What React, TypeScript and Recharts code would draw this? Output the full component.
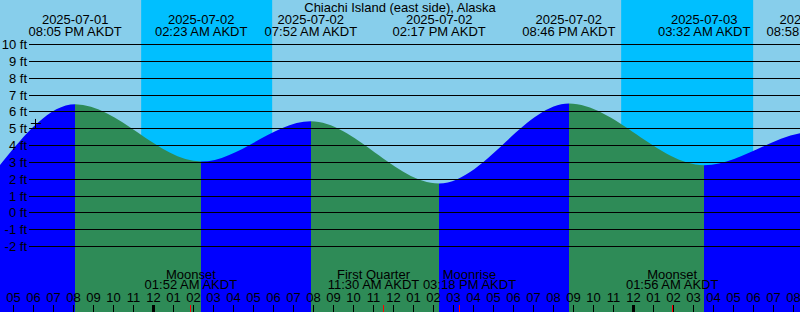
import {
  ComposedChart,
  Area,
  XAxis,
  YAxis,
  ReferenceArea,
  ReferenceLine,
  ReferenceDot,
} from "recharts";

const W = 800;
const H = 312;
const FONT = '"Liberation Sans", Arial, sans-serif';
const FS = 13;

const DAY = "#87CEEB";
const NIGHT = "#00BFFF";
const RISING = "#0000FF";
const FALLING = "#2E8B57";

const STATION = "Chiachi Island (east side), Alaska";
const ZONE = "AKDT";

// Tide turning points. The first two and the last one sit off the edges;
// they are only there so the curve enters and leaves the picture right.
const tideDates = [
  "2025-07-01", "2025-07-01", "2025-07-01", "2025-07-02", "2025-07-02",
  "2025-07-02", "2025-07-02", "2025-07-03", "2025-07-03", "2025-07-03",
];
const tideClock = [
  "06:00 AM", "12:05 PM", "08:05 PM", "02:23 AM", "07:52 AM",
  "02:17 PM", "08:46 PM", "03:32 AM", "08:58 AM", "03:10 PM",
];
const tideFeet = [5.3, -1.5, 6.45, 3.05, 5.44, 1.74, 6.49, 2.83, 4.8, 1.5];

// Night bands (sunset -> sunrise)
const sunsetDates = ["2025-07-01", "2025-07-02"];
const sunsetClock = ["11:23 PM", "11:23 PM"];
const sunriseDates = ["2025-07-02", "2025-07-03"];
const sunriseClock = ["05:56 AM", "05:59 AM"];

// Moon events along the bottom
const moonNames = ["Moonset", "First Quarter", "Moonrise", "Moonset"];
const moonDates = ["2025-07-02", "2025-07-02", "2025-07-02", "2025-07-03"];
const moonClock = ["01:52 AM", "11:30 AM", "03:18 PM", "01:56 AM"];

// Level lines
const feetTicks = [-2, -1, 0, 1, 2, 3, 4, 5, 6, 7, 8, 9, 10];

// the small "+" mark near the left edge
const markDate = "2025-07-01";
const markClock = "06:07 PM";
const markFeet = 5.31;

// hours since 2025-07-01 00:00
const toHours = (date: string, clock: string) => {
  const day = Number(date.slice(8, 10)) - 1;
  let h = Number(clock.slice(0, 2)) % 12;
  if (clock.endsWith("PM")) h += 12;
  return day * 24 + h + Number(clock.slice(3, 5)) / 60;
};

const X_MIN = 16.325;
const X_MAX = X_MIN + 40;
const Y_MIN = -5.891;
const Y_MAX = 12.6436;
const PX_PER_HOUR = W / (X_MAX - X_MIN);
const GUTTER = 29;

const tideT = tideDates.map((d, i) => toHours(d, tideClock[i]));
const data = tideT.map((t, i) => ({ t, ft: tideFeet[i] }));
// only label turning points whose label can reach into the picture
const labelled = tideT.map((t) => t > X_MIN - 2 && t < X_MAX + 2);

const hourTicks = Array.from({ length: 40 }, (_, i) => 17 + i);

// colour stops: blue while the tide rises, green while it falls
const span = tideT[tideT.length - 1] - tideT[0];
const stops: { offset: number; color: string }[] = [];
for (let i = 0; i < tideT.length - 1; i++) {
  const color = tideFeet[i + 1] > tideFeet[i] ? RISING : FALLING;
  stops.push({ offset: (tideT[i] - tideT[0]) / span, color });
  stops.push({ offset: (tideT[i + 1] - tideT[0]) / span, color });
}

// moon labels that would collide get pushed apart
const MOON_LABEL_W = 96;
const moonT = moonDates.map((d, i) => toHours(d, moonClock[i]));
const moonShift = moonT.map(() => 0);
for (let i = 0; i < moonT.length - 1; i++) {
  const gap = (moonT[i + 1] - moonT[i]) * PX_PER_HOUR;
  if (gap < MOON_LABEL_W) {
    const push = (MOON_LABEL_W - gap) / 2;
    moonShift[i] -= push;
    moonShift[i + 1] += push;
  }
}

const txt = { fontFamily: FONT, fontSize: FS, fill: "#000" };

const HourTick = (props: any) => {
  const { x, y, payload } = props;
  const t: number = payload.value;
  const h = ((t % 24) + 11) % 12 + 1;
  const midnight = t % 24 === 0;
  return (
    <g>
      <text x={x} y={y} textAnchor="middle" {...txt}>
        {String(h).padStart(2, "0")}
      </text>
      {midnight ? (
        <rect x={x - 1.5} y={y + 3} width={3} height={7} fill="#000" />
      ) : (
        <line x1={x} x2={x} y1={y + 3} y2={y + 10} stroke="#000" />
      )}
    </g>
  );
};

const FeetLine = (props: any) => {
  const y = Math.floor(props.y1) + 0.5;
  return (
    <g>
      <line x1={GUTTER} x2={props.x2} y1={y} y2={y} stroke="#000" />
      <text x={GUTTER - 2} y={y + 4} textAnchor="end" {...txt}>
        {`${props.value} ft`}
      </text>
    </g>
  );
};

export default function App() {
  return (
    <div style={{ position: "absolute", left: 0, top: 0, width: W, height: H, background: DAY }}>
      <ComposedChart
        width={W}
        height={H}
        data={data}
        margin={{ top: 0, right: 0, bottom: 0, left: 0 }}
      >
        <defs>
          <linearGradient id="tideFill" x1="0" y1="0" x2="1" y2="0">
            {stops.map((s, i) => (
              <stop key={i} offset={s.offset} stopColor={s.color} />
            ))}
          </linearGradient>
        </defs>
        <YAxis hide type="number" domain={[Y_MIN, Y_MAX]} allowDataOverflow />
        {sunsetDates.map((d, i) => (
          <ReferenceArea
            key={i}
            x1={toHours(d, sunsetClock[i])}
            x2={toHours(sunriseDates[i], sunriseClock[i])}
            fill={NIGHT}
            fillOpacity={1}
            stroke="none"
            zIndex={50}
          />
        ))}
        <Area
          type="monotoneX"
          dataKey="ft"
          stroke="none"
          fill="url(#tideFill)"
          fillOpacity={1}
          baseValue={Y_MIN}
          dot={false}
          activeDot={false}
          isAnimationActive={false}
          zIndex={100}
        />
        {feetTicks.map((v) => (
          <ReferenceLine
            key={v}
            y={v}
            ifOverflow="visible"
            zIndex={450}
            shape={(p: any) => <FeetLine {...p} value={v} />}
          />
        ))}
        <XAxis
          type="number"
          dataKey="t"
          domain={[X_MIN, X_MAX]}
          allowDataOverflow
          ticks={hourTicks}
          interval={0}
          orientation="bottom"
          mirror
          height={30}
          axisLine={false}
          tickLine={false}
          tickSize={7}
          tickMargin={3}
          tick={<HourTick />}
        />
        {tideT.map((t, i) =>
          labelled[i] ? (
            <ReferenceDot
              key={`tide${i}`}
              x={t}
              y={Y_MAX}
              ifOverflow="visible"
              zIndex={2000}
              shape={(p: any) => (
                <g>
                  <text x={p.cx} y={p.cy + 23.5} textAnchor="middle" {...txt}>
                    {tideDates[i]}
                  </text>
                  <text x={p.cx} y={p.cy + 35.5} textAnchor="middle" {...txt}>
                    {`${tideClock[i]} ${ZONE}`}
                  </text>
                </g>
              )}
            />
          ) : null
        )}
        {moonT.map((t, i) => (
          <ReferenceDot
            key={`moon${i}`}
            x={t}
            y={Y_MIN}
            ifOverflow="visible"
            zIndex={2000}
            shape={(p: any) => (
              <g>
                <line x1={Math.floor(p.cx) + 0.5} x2={Math.floor(p.cx) + 0.5} y1={p.cy - 7} y2={p.cy} stroke="#FF0000" />
                <text x={p.cx + moonShift[i]} y={p.cy - 33.5} textAnchor="middle" {...txt}>
                  {moonNames[i]}
                </text>
                <text x={p.cx + moonShift[i]} y={p.cy - 23} textAnchor="middle" {...txt}>
                  {`${moonClock[i]} ${ZONE}`}
                </text>
              </g>
            )}
          />
        ))}
        <ReferenceDot
          x={toHours(markDate, markClock)}
          y={markFeet}
          ifOverflow="visible"
          zIndex={2000}
          shape={(p: any) => (
            <g stroke="#000">
              <line x1={p.cx - 5} x2={p.cx + 5} y1={Math.floor(p.cy) + 0.5} y2={Math.floor(p.cy) + 0.5} />
              <line x1={Math.floor(p.cx) + 0.5} x2={Math.floor(p.cx) + 0.5} y1={p.cy - 4.5} y2={p.cy + 4.5} />
            </g>
          )}
        />
      </ComposedChart>
      <div
        style={{
          position: "absolute",
          top: 1,
          left: 0,
          width: W,
          textAlign: "center",
          fontFamily: FONT,
          fontSize: FS,
          lineHeight: `${FS}px`,
          color: "#000",
          pointerEvents: "none",
        }}
      >
        {STATION}
      </div>
    </div>
  );
}
